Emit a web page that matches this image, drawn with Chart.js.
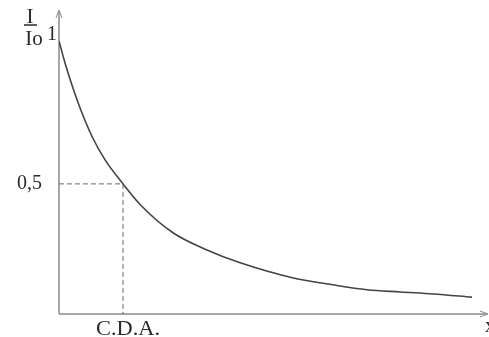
<!DOCTYPE html>
<html>
<head>
<meta charset="utf-8">
<script src="https://cdn.jsdelivr.net/npm/chart.js@4"></script>
<style>
  body { margin: 0; background: #fff; }
  canvas { display: block; }
</style>
</head>
<body>
<canvas id="chart" width="489" height="337"></canvas>
<script>
// distance in units of the C.D.A. (C.D.A. = 1)
const xValues = [0, 0.094, 0.30, 0.52, 0.72, 1.0, 1.27, 1.78, 2.31, 2.83, 3.66, 4.28, 4.81, 5.33, 5.84, 6.45];
const intensity = [1.0, 0.923, 0.783, 0.664, 0.584, 0.5, 0.427, 0.329, 0.269, 0.224, 0.171, 0.147, 0.130, 0.122, 0.115, 0.104];

const halfValue = 0.5;
const cdaValue = 1.0;
const yTickLabels = ['1', '0,5'];
const xTickLabel = 'C.D.A.';

const yMin = 0.045;
const yMax = 1.108;
const xMax = 6.70;

const curveData = xValues.map((x, i) => ({ x: x, y: intensity[i] }));
const guideData = [
  { x: 0, y: halfValue },
  { x: cdaValue, y: halfValue },
  { x: cdaValue, y: yMin }
];

// draw text a bit wider, like the scanned serif
function wideText(ctx, text, x, y, stretch) {
  ctx.save();
  ctx.translate(x, y);
  ctx.scale(stretch, 1);
  ctx.fillText(text, 0, 0);
  ctx.restore();
}

const axisPlugin = {
  id: 'axisPlugin',
  beforeDatasetsDraw(chart) {
    const ctx = chart.ctx;
    const a = chart.chartArea;
    ctx.save();
    ctx.strokeStyle = '#8a8a8a';
    ctx.lineWidth = 1.5;
    // y axis
    ctx.beginPath();
    ctx.moveTo(a.left, a.bottom);
    ctx.lineTo(a.left, a.top + 2);
    ctx.stroke();
    // x axis
    ctx.beginPath();
    ctx.moveTo(a.left, a.bottom);
    ctx.lineTo(a.right - 2, a.bottom);
    ctx.stroke();
    // arrow heads
    ctx.lineWidth = 1;
    ctx.beginPath();
    ctx.moveTo(a.left - 3, a.top + 8);
    ctx.lineTo(a.left, a.top);
    ctx.lineTo(a.left + 3, a.top + 8);
    ctx.stroke();
    ctx.beginPath();
    ctx.moveTo(a.right - 8, a.bottom - 3);
    ctx.lineTo(a.right, a.bottom);
    ctx.lineTo(a.right - 8, a.bottom + 3);
    ctx.stroke();
    ctx.restore();
  },
  afterDraw(chart) {
    const ctx = chart.ctx;
    const xs = chart.scales.x;
    const ys = chart.scales.y;
    const a = chart.chartArea;
    ctx.save();
    ctx.fillStyle = '#2a2a2a';
    ctx.font = '20px "Liberation Serif", serif';
    ctx.textBaseline = 'alphabetic';
    ctx.textAlign = 'right';
    ctx.fillText(yTickLabels[0], a.left - 2, ys.getPixelForValue(1) - 1);
    ctx.fillText(yTickLabels[1], a.left - 17, ys.getPixelForValue(halfValue) + 5);
    ctx.textAlign = 'center';
    wideText(ctx, xTickLabel, xs.getPixelForValue(cdaValue) + 5, a.bottom + 21, 1.12);
    // x axis name, cut by the edge
    ctx.textAlign = 'left';
    ctx.fillText('x', a.right - 3, a.bottom + 18);
    // y axis name I / Io
    ctx.font = '21px "Liberation Serif", serif';
    ctx.textAlign = 'center';
    ctx.fillText('I', 30, 23);
    ctx.fillText('Io', 34, 45);
    ctx.strokeStyle = '#2a2a2a';
    ctx.lineWidth = 1.5;
    ctx.beginPath();
    ctx.moveTo(24, 25);
    ctx.lineTo(37, 25);
    ctx.stroke();
    ctx.restore();
  }
};

new Chart(document.getElementById('chart'), {
  type: 'line',
  data: {
    datasets: [
      {
        data: curveData,
        borderColor: '#444',
        borderWidth: 1.6,
        pointRadius: 0,
        cubicInterpolationMode: 'monotone',
        fill: false
      },
      {
        data: guideData,
        borderColor: '#666',
        borderWidth: 1,
        borderDash: [5, 3],
        pointRadius: 0,
        tension: 0,
        fill: false
      }
    ]
  },
  options: {
    responsive: false,
    animation: false,
    layout: { padding: { left: 59, right: 1, top: 10, bottom: 23 } },
    plugins: {
      legend: { display: false },
      tooltip: { enabled: false }
    },
    scales: {
      x: { type: 'linear', min: 0, max: xMax, display: false },
      y: { type: 'linear', min: yMin, max: yMax, display: false }
    }
  },
  plugins: [axisPlugin]
});
</script>
</body>
</html>
